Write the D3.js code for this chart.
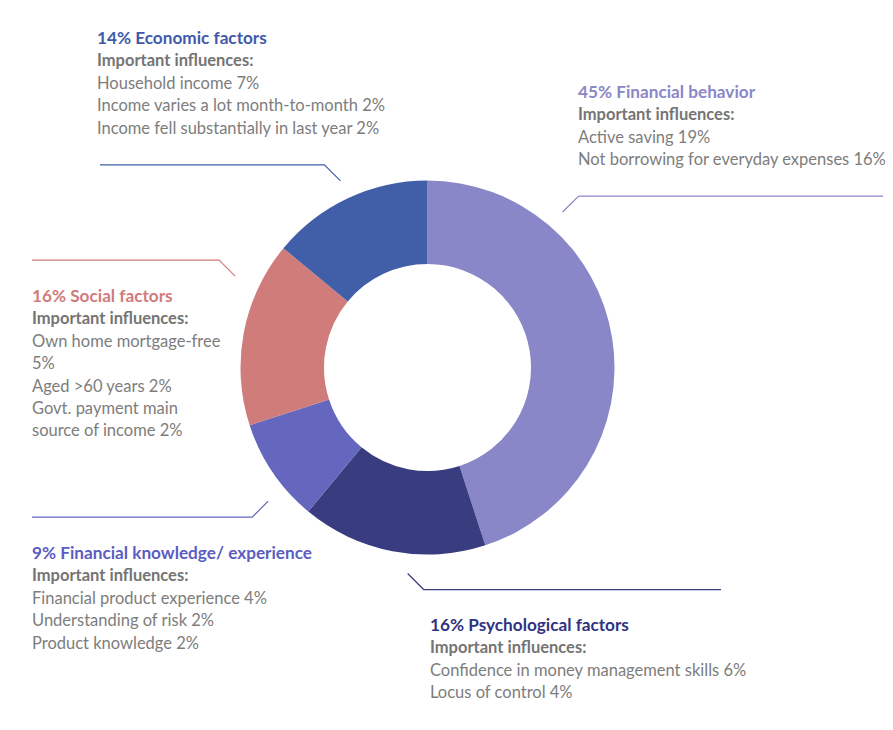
<!DOCTYPE html>
<html>
<head>
<meta charset="utf-8">
<script src="https://cdn.jsdelivr.net/npm/d3@7"></script>
<style>
  body { margin: 0; background: #fff; }
  svg { display: block; font-family: Lato, "Noto Sans", sans-serif; }
</style>
</head>
<body>
<div id="chart"></div>
<script>
// data (clockwise from 12 o'clock)
var categories = ["Financial behavior", "Psychological factors", "Financial knowledge/ experience", "Social factors", "Economic factors"];
var shares = [45, 16, 9, 16, 14];
var colors = ["#8a87c8", "#393c7f", "#6567bf", "#d07c7b", "#415ea8"];
var titleColors = ["#8a87c8", "#2f3381", "#5b5dc2", "#d07b7b", "#3f5aa9"];
var influences = [
  ["Active saving 19%", "Not borrowing for everyday expenses 16%"],
  ["Confidence in money management skills 6%", "Locus of control 4%"],
  ["Financial product experience 4%", "Understanding of risk 2%", "Product knowledge 2%"],
  ["Own home mortgage-free", "5%", "Aged >60 years 2%", "Govt. payment main", "source of income 2%"],
  ["Household income 7%", "Income varies a lot month-to-month 2%", "Income fell substantially in last year 2%"]
];

// label layout: leader angle (deg) and radius, far end of the leader, text anchor
var layout = [
  { angle: 41, r: 206, endX: 883, tx: 578, ty: 98 },
  { angle: 185.5, r: 207, endX: 721, tx: 430, ty: 631 },
  { angle: 230, r: 208, endX: 32, tx: 32, ty: 559 },
  { angle: 295.4, r: 213, endX: 32, tx: 32, ty: 302 },
  { angle: 335, r: 206, endX: 100, tx: 97, ty: 44 }
];

var width = 893, height = 730;
var cx = 427.5, cy = 367.5, rOuter = 187, rInner = 103.5;

var svg = d3.select("#chart").append("svg")
  .attr("width", width)
  .attr("height", height);

var data = categories.map(function(c, i) {
  return { name: c, value: shares[i], i: i };
});

var pie = d3.pie().sort(null).value(function(d) { return d.value; });
var arc = d3.arc().innerRadius(rInner).outerRadius(rOuter);

var g = svg.append("g").attr("transform", "translate(" + cx + "," + cy + ")");

g.selectAll("path")
  .data(pie(data))
  .enter()
  .append("path")
    .attr("d", arc)
    .attr("fill", function(d) { return colors[d.data.i]; });

// leader lines
var elbow = 16;
data.forEach(function(d, i) {
  var L = layout[i];
  var p = d3.pointRadial(L.angle * Math.PI / 180, L.r);
  var x0 = cx + p[0], y0 = cy + p[1];
  var sx = (L.endX > x0) ? 1 : -1;
  var sy = (p[1] < 0) ? -1 : 1;
  var x1 = x0 + sx * elbow, y1 = y0 + sy * elbow;
  svg.append("path")
    .attr("d", "M" + x0 + "," + y0 + "L" + x1 + "," + y1 + "L" + L.endX + "," + y1)
    .attr("fill", "none")
    .attr("stroke", colors[i])
    .attr("stroke-width", 1.2);
});

// text blocks
var lineH = 22.4;
data.forEach(function(d, i) {
  var L = layout[i];
  var t = svg.append("text")
    .attr("x", L.tx)
    .attr("y", L.ty)
    .style("font-size", "16.5px");
  t.append("tspan")
    .attr("x", L.tx)
    .attr("fill", titleColors[i])
    .attr("font-weight", 700)
    .style("font-size", "17.2px")
    .text(d.value + "% " + d.name);
  t.append("tspan")
    .attr("x", L.tx)
    .attr("dy", lineH)
    .attr("fill", "#747474")
    .attr("font-weight", 700)
    .text("Important influences:");
  influences[i].forEach(function(s) {
    t.append("tspan")
      .attr("x", L.tx)
      .attr("dy", lineH)
      .attr("fill", "#7d7d7d")
      .text(s);
  });
});
</script>
</body>
</html>
